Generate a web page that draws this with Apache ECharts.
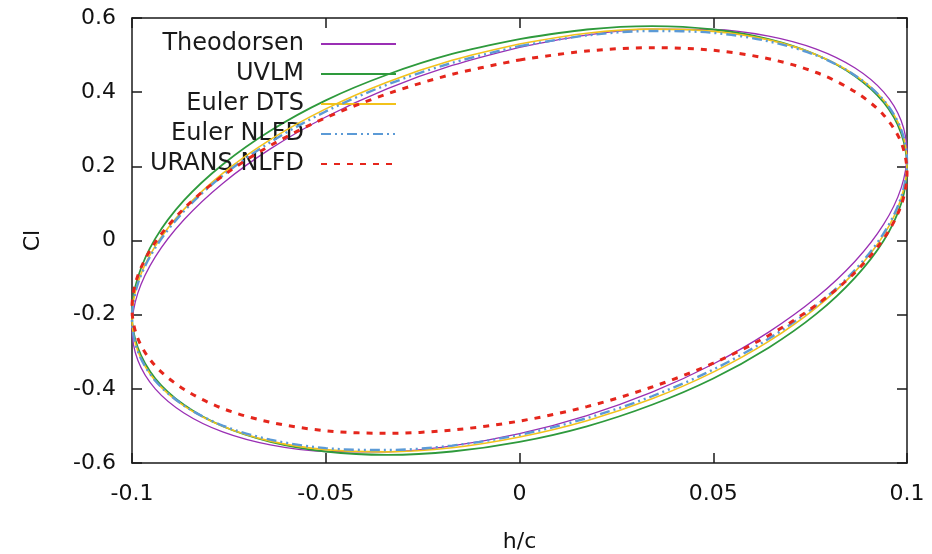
<!DOCTYPE html>
<html>
<head>
<meta charset="utf-8">
<script src="https://cdn.jsdelivr.net/npm/echarts@6/dist/echarts.min.js"></script>
<style>html,body{margin:0;padding:0;background:#fff}#c{width:932px;height:554px}</style>
</head>
<body>
<div id="c"></div>
<script>
// Series names (legend order)
const seriesNames = ['Theodorsen', 'UVLM', 'Euler DTS', 'Euler NLFD', 'URANS NLFD'];

// h/c positions along each loop (same sampling for every curve)
const hOverC = [0, 0.0174, 0.0342, 0.05, 0.0643, 0.0766, 0.0866, 0.0940, 0.0985,
                0.1, 0.0985, 0.0940, 0.0866, 0.0766, 0.0643, 0.05, 0.0342, 0.0174,
                0, -0.0174, -0.0342, -0.05, -0.0643, -0.0766, -0.0866, -0.0940, -0.0985,
                -0.1, -0.0985, -0.0940, -0.0866, -0.0766, -0.0643, -0.05, -0.0342, -0.0174];

// Cl read along each loop, matching hOverC
const clTheodorsen = [0.521, 0.554, 0.570, 0.569, 0.551, 0.516, 0.465, 0.400, 0.323,
                      0.236, 0.142, 0.044, -0.056, -0.154, -0.247, -0.333, -0.409, -0.472,
                      -0.521, -0.554, -0.570, -0.569, -0.551, -0.516, -0.465, -0.400, -0.323,
                      -0.236, -0.142, -0.044, 0.056, 0.154, 0.247, 0.333, 0.409, 0.472];
const clUVLM       = [0.543, 0.569, 0.578, 0.569, 0.543, 0.501, 0.443, 0.372, 0.289,
                      0.198, 0.100, 0.000, -0.100, -0.198, -0.289, -0.372, -0.443, -0.501,
                      -0.543, -0.569, -0.578, -0.569, -0.543, -0.501, -0.443, -0.372, -0.289,
                      -0.198, -0.100, 0.005, 0.108, 0.205, 0.296, 0.378, 0.447, 0.503];
const clEulerDTS   = [0.530, 0.559, 0.570, 0.564, 0.541, 0.501, 0.446, 0.378, 0.298,
                      0.209, 0.114, 0.015, -0.084, -0.181, -0.272, -0.355, -0.427, -0.486,
                      -0.530, -0.559, -0.570, -0.564, -0.541, -0.501, -0.446, -0.378, -0.298,
                      -0.209, -0.114, -0.015, 0.084, 0.181, 0.272, 0.355, 0.427, 0.486];
const clEulerNLFD  = [0.524, 0.553, 0.565, 0.560, 0.537, 0.499, 0.445, 0.378, 0.299,
                      0.212, 0.117, 0.020, -0.079, -0.175, -0.265, -0.348, -0.420, -0.479,
                      -0.524, -0.553, -0.565, -0.560, -0.537, -0.499, -0.445, -0.378, -0.299,
                      -0.212, -0.117, -0.020, 0.079, 0.175, 0.265, 0.348, 0.420, 0.479];
const clURANSNLFD  = [0.487, 0.511, 0.520, 0.513, 0.490, 0.453, 0.401, 0.338, 0.264,
                      0.182, 0.095, 0.005, -0.086, -0.174, -0.256, -0.331, -0.395, -0.448,
                      -0.487, -0.511, -0.520, -0.513, -0.490, -0.453, -0.401, -0.338, -0.264,
                      -0.182, -0.095, -0.005, 0.086, 0.174, 0.256, 0.331, 0.395, 0.448];

// Axis ranges: [min, max, interval]
const xRange = [-0.1, 0.1, 0.05];
const yRange = [-0.6, 0.6, 0.2];

const FONT = 'DejaVu Sans';
const AX = '#1a1a1a';

function loop(cl) {
  const pts = hOverC.map((h, i) => [h, cl[i]]);
  return pts.concat([pts[0]]);
}

const styles = [
  { color: '#9a2fb4', width: 1.3, type: 'solid' },
  { color: '#2e9a3c', width: 1.8, type: 'solid' },
  { color: '#f2c21b', width: 1.6, type: 'solid' },
  { color: '#5b9ad6', width: 2.4, type: [10, 4, 2, 4, 2, 4] },
  { color: '#e5261c', width: 3, type: [6, 7] }
];
const clData = [clTheodorsen, clUVLM, clEulerDTS, clEulerNLFD, clURANSNLFD];

const series = seriesNames.map((name, i) => ({
  name: name,
  type: 'line',
  data: loop(clData[i]),
  symbol: 'none',
  showSymbol: false,
  smooth: 0.33,
  clip: false,
  lineStyle: { color: styles[i].color, width: styles[i].width, type: styles[i].type },
  itemStyle: { color: styles[i].color },
  emphasis: { disabled: true },
  z: 2 + i
}));

function axisCommon(extra) {
  return Object.assign({
    type: 'value',
    axisLine: { show: true, onZero: false, lineStyle: { color: AX, width: 1.5 } },
    axisTick: { show: true, inside: true, length: 10, lineStyle: { color: AX, width: 1.5 } },
    splitLine: { show: false },
    minorTick: { show: false }
  }, extra);
}

const labelStyle = { color: '#111', fontSize: 22, fontFamily: FONT };

const option = {
  animation: false,
  backgroundColor: '#fff',
  grid: { left: 132, right: 25, top: 18, bottom: 91, outerBoundsMode: 'none', containLabel: false },
  legend: {
    orient: 'vertical',
    right: 535,
    top: 32,
    padding: 0,
    align: 'right',
    itemWidth: 75,
    itemHeight: 14,
    itemGap: 6,
    selectedMode: false,
    itemStyle: { opacity: 0 },
    textStyle: { color: '#1a1a1a', fontSize: 24, fontFamily: FONT, lineHeight: 24, padding: [0, 12, 0, 0] },
    data: seriesNames
  },
  xAxis: [
    axisCommon({
      min: xRange[0], max: xRange[1], interval: xRange[2], position: 'bottom',
      name: 'h/c', nameLocation: 'middle', nameGap: 68,
      nameTextStyle: { color: '#111', fontSize: 22, fontFamily: FONT },
      axisLabel: Object.assign({ margin: 20 }, labelStyle)
    }),
    axisCommon({
      min: xRange[0], max: xRange[1], interval: xRange[2], position: 'top',
      axisLabel: { show: false }
    })
  ],
  yAxis: [
    axisCommon({
      min: yRange[0], max: yRange[1], interval: yRange[2], position: 'left',
      name: 'Cl', nameLocation: 'middle', nameGap: 88, nameRotate: 90,
      nameTextStyle: { color: '#111', fontSize: 22, fontFamily: FONT },
      axisLabel: Object.assign({ margin: 16 }, labelStyle)
    }),
    axisCommon({
      min: yRange[0], max: yRange[1], interval: yRange[2], position: 'right',
      axisLabel: { show: false }
    })
  ],
  series: series
};

const chart = echarts.init(document.getElementById('c'), null, { renderer: 'canvas' });
chart.setOption(option);
</script>
</body>
</html>
